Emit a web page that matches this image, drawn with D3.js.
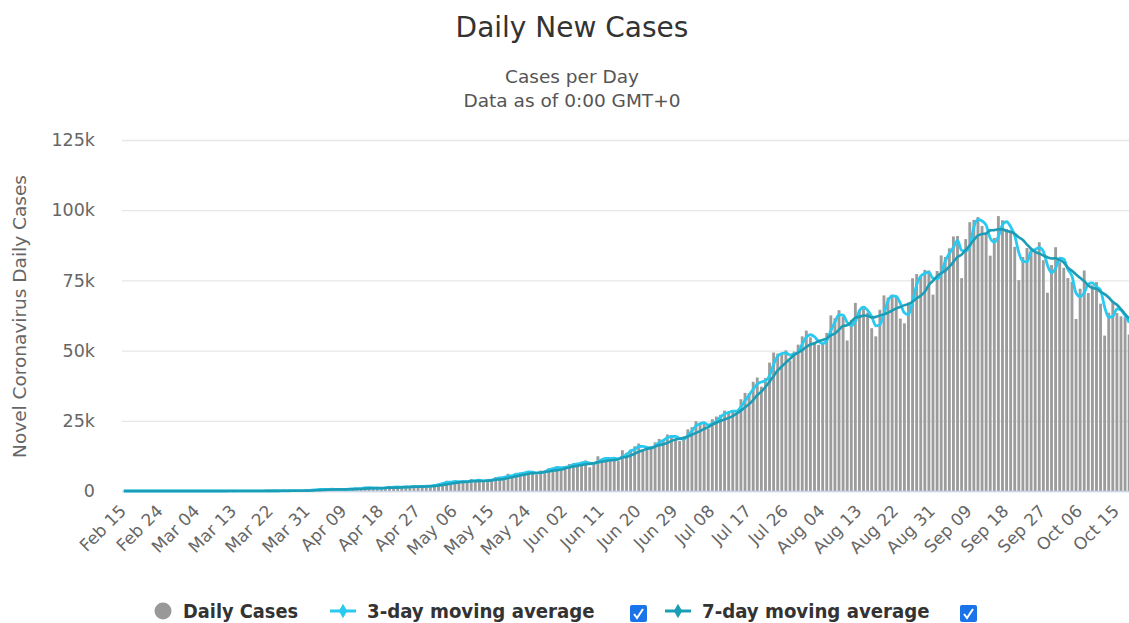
<!DOCTYPE html>
<html>
<head>
<meta charset="utf-8">
<script src="https://cdn.jsdelivr.net/npm/d3@7"></script>
<style>
  body { margin: 0; background: #fff; }
  svg { display: block; font-family: "DejaVu Sans", sans-serif; }
</style>
</head>
<body>
<svg id="chart"></svg>
<script>
// Daily new cases, Feb 15 .. Oct 18 (one value per day)
const startDate = new Date(2020, 1, 15);
const dailyFebMar = [
  0, 0, 0, 0, 0, 0, 0, 0, 0, 0, 0, 0, 0, 0, 0,
  0, 2, 1, 22, 2, 1, 3, 5, 4, 13, 6, 11, 9, 20, 11, 6, 23, 14, 38, 50, 86, 66, 103, 37, 121, 70, 160, 100, 82, 227, 146
];
const dailyApr = [601, 545, 478, 663, 505, 703, 508, 485, 591, 896, 768, 918, 905, 1463, 1118, 826, 1076, 1007, 1240, 1570, 1239, 1537, 1292, 1667, 1408, 1835, 1607, 1568, 1902, 1801];
const dailyMay = [2396, 2564, 2952, 3656, 2971, 3602, 3344, 3339, 3175, 4311, 3592, 3562, 3726, 3967, 3970, 4987, 5050, 4630, 6147, 5553, 6198, 6568, 6629, 7111, 6414, 5843, 7293, 7300, 8105, 8336, 8782];
const dailyJun = [7761, 8821, 9633, 9889, 9471, 10438, 10864, 8442, 10218, 12375, 11128, 11458, 12023, 11502, 10667, 14516, 13586, 14721, 15918, 16922, 14821, 14933, 15968, 17296, 18552, 18183, 20131, 19906, 18339, 17793];
const dailyJul = [19428, 21947, 22718, 24850, 24248, 23942, 22251, 25571, 26506, 27114, 28637, 28179, 28498, 28701, 32695, 34956, 34884, 38902, 40425, 37148, 40243, 45720, 49310, 48916, 48661, 50072, 46484, 49632, 52123, 55079, 57117];
const dailyAug = [54735, 52972, 52050, 52509, 56282, 62538, 61537, 64399, 62064, 53601, 60963, 66999, 64553, 65002, 63490, 57981, 55079, 64531, 69652, 68898, 69878, 69239, 61408, 59696, 67151, 75760, 77266, 76472, 78761, 78512, 69921];
const dailySep = [78357, 83883, 83341, 86432, 90632, 90802, 75809, 89706, 95735, 96551, 97570, 94372, 92071, 83809, 90123, 97894, 96424, 93337, 92605, 86961, 75083, 83347, 86508, 86052, 85362, 88600, 82170, 70589, 80472, 86821];
const dailyOct = [81484, 79476, 75829, 74442, 61267, 72049, 78524, 70496, 73272, 74383, 66732, 55342, 63509, 67708, 63371, 62212, 61871, 55722];

const yTicks = [0, 25000, 50000, 75000, 100000, 125000];
const yTickLabels = ["0", "25k", "50k", "75k", "100k", "125k"];
const xTickEvery = 9;

const dailyCases = [].concat(dailyFebMar, dailyApr, dailyMay, dailyJun, dailyJul, dailyAug, dailySep, dailyOct);
const dates = dailyCases.map((v, i) => d3.timeDay.offset(startDate, i));

const movingAvg = (arr, n) => arr.map((v, i) => {
  const part = arr.slice(Math.max(0, i - n + 1), i + 1);
  return d3.mean(part);
});
const avg3 = movingAvg(dailyCases, 3);
const avg7 = movingAvg(dailyCases, 7);

const width = 1129;
const height = 623;
const plotLeft = 122, plotRight = 1131, plotTop = 140, plotBottom = 491;

const color3 = "#29c9f0";
const color7 = "#1b9db6";
const fmt = d3.timeFormat("%b %d");

const svg = d3.select("#chart").attr("width", width).attr("height", height);

const x = d3.scaleBand()
  .domain(dates.map((d, i) => i))
  .range([plotLeft, plotRight])
  .paddingInner(0.3)
  .paddingOuter(0.1);

const y = d3.scaleLinear()
  .domain([0, 125000])
  .range([plotBottom, plotTop]);

// title
svg.append("text")
  .attr("x", 572).attr("y", 37)
  .attr("text-anchor", "middle")
  .attr("font-size", 28).attr("fill", "#333")
  .text("Daily New Cases");
svg.append("text")
  .attr("x", 572).attr("y", 83)
  .attr("text-anchor", "middle")
  .attr("font-size", 18.5).attr("fill", "#555")
  .text("Cases per Day");
svg.append("text")
  .attr("x", 572).attr("y", 107)
  .attr("text-anchor", "middle")
  .attr("font-size", 18.5).attr("fill", "#555")
  .text("Data as of 0:00 GMT+0");

// grid + y axis
const yAxis = svg.append("g")
  .attr("transform", `translate(${plotLeft},0)`)
  .call(d3.axisLeft(y).tickValues(yTicks)
    .tickSize(-(plotRight - plotLeft))
    .tickPadding(27)
    .tickFormat((d, i) => yTickLabels[i]));
yAxis.select(".domain").remove();
yAxis.selectAll(".tick line").attr("stroke", "#e6e6e6").attr("stroke-width", 1.3);
yAxis.selectAll(".tick text").attr("font-size", 17.5).attr("fill", "#666")
  .attr("font-family", "DejaVu Sans, sans-serif");

svg.append("text")
  .attr("transform", `translate(26,${(plotTop + plotBottom) / 2 + 1}) rotate(-90)`)
  .attr("text-anchor", "middle")
  .attr("font-size", 18.5).attr("fill", "#666")
  .text("Novel Coronavirus Daily Cases");

// bars
svg.append("g")
  .selectAll("rect")
  .data(dailyCases)
  .join("rect")
  .attr("x", (d, i) => x(i))
  .attr("width", x.bandwidth())
  .attr("y", d => y(d))
  .attr("height", d => plotBottom - y(d))
  .attr("fill", "#9c9c9c");

// x axis
const xAxis = svg.append("g")
  .attr("transform", `translate(0,${plotBottom})`)
  .call(d3.axisBottom(x)
    .tickValues(dates.map((d, i) => i).filter(i => i % xTickEvery === 0))
    .tickSize(0)
    .tickFormat(i => fmt(dates[i])));
xAxis.select(".domain").attr("stroke", "#ccd6eb").attr("stroke-width", 1.5);
xAxis.selectAll(".tick text")
  .attr("font-size", 17).attr("fill", "#666")
  .attr("font-family", "DejaVu Sans, sans-serif")
  .attr("text-anchor", "end")
  .attr("transform", "translate(-1,17) rotate(-45)")
  .attr("dy", "0.35em")
  .attr("y", 0).attr("x", 0);

// moving average lines
const line = d3.line()
  .x((d, i) => x(i) + x.bandwidth() / 2)
  .y(d => y(d))
  .curve(d3.curveMonotoneX);

svg.append("path").datum(avg3)
  .attr("d", line).attr("fill", "none")
  .attr("stroke", color3).attr("stroke-width", 2.8);
svg.append("path").datum(avg7)
  .attr("d", line).attr("fill", "none")
  .attr("stroke", color7).attr("stroke-width", 2.6);

// legend
const legendFont = "DejaVu Sans Condensed, DejaVu Sans, sans-serif";
const legend = svg.append("g").attr("transform", "translate(0,611)");
legend.append("circle").attr("cx", 163).attr("cy", 0).attr("r", 8.5).attr("fill", "#999");
legend.append("text").attr("x", 183).attr("y", 7)
  .attr("font-family", legendFont)
  .attr("font-size", 19.8).attr("font-weight", "bold").attr("fill", "#333")
  .text("Daily Cases");

const lineItems = [
  { label: "3-day moving average", color: color3, x: 330, box: 638 },
  { label: "7-day moving average", color: color7, x: 665, box: 968 }
];
lineItems.forEach(item => {
  const g = legend.append("g");
  g.append("line").attr("x1", item.x).attr("x2", item.x + 26)
    .attr("y1", 0).attr("y2", 0)
    .attr("stroke", item.color).attr("stroke-width", 3);
  g.append("path")
    .attr("d", d3.symbol(d3.symbolDiamond, 60)())
    .attr("transform", `translate(${item.x + 13},0)`)
    .attr("fill", item.color);
  g.append("text").attr("x", item.x + 37).attr("y", 7)
    .attr("font-family", legendFont)
    .attr("font-size", 20.2).attr("font-weight", "bold").attr("fill", "#333")
    .text(item.label);
  g.append("rect").attr("x", item.box - 8).attr("y", -6).attr("width", 17).attr("height", 17)
    .attr("rx", 2).attr("fill", "#1a73e8");
  g.append("path")
    .attr("d", `M${item.box - 4},${3} L${item.box - 1},${7} L${item.box + 5},${-2}`)
    .attr("fill", "none").attr("stroke", "#fff").attr("stroke-width", 2);
});
</script>
</body>
</html>
